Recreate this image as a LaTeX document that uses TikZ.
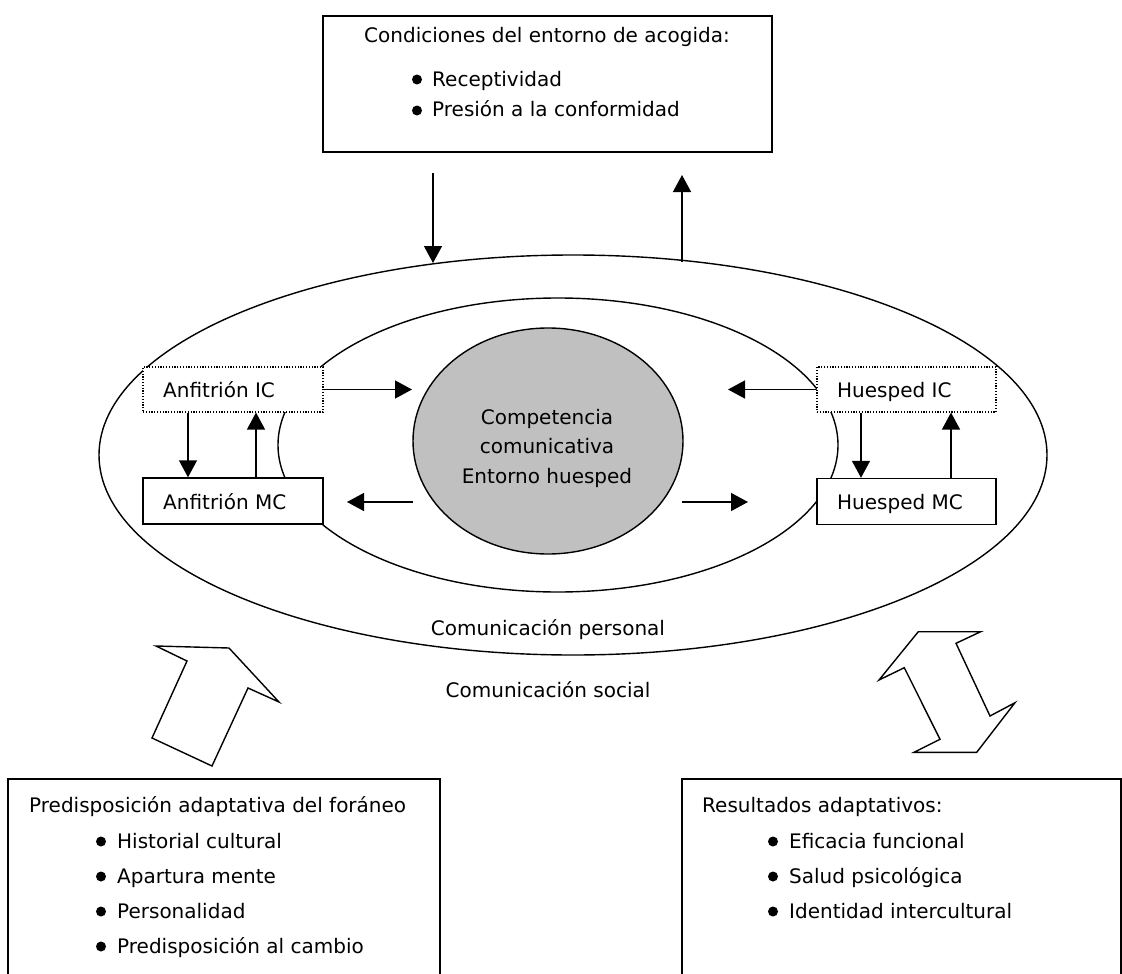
\documentclass[tikz,border=0pt]{standalone}
\usepackage{fontspec}
\setmainfont{DejaVu Sans}
\usetikzlibrary{arrows.meta,shapes.geometric}

\begin{document}
\begin{tikzpicture}[x=1pt,y=-1pt,
  txt/.style={font=\fontsize{20}{24}\selectfont, inner sep=0pt, anchor=base west},
  ctxt/.style={font=\fontsize{20}{24}\selectfont, inner sep=0pt, anchor=base},
  boxframe/.style={draw, rectangle, line width=1.4pt, fill=white, inner sep=0pt},
  dotframe/.style={boxframe, line width=1.1pt, dash pattern=on 1.2pt off 1.6pt},
  ringshape/.style={draw, ellipse, line width=1.4pt, inner sep=0pt},
  arr/.style={line width=1.4pt, -{Triangle[length=17pt,width=18pt]}},
  bigarrow/.style={draw, fill=white, line width=1.4pt, line join=miter},
  bulletdot/.style={fill, circle, inner sep=0pt, minimum size=10pt}
]
\useasboundingbox (0,0) rectangle (1122,974);
\clip (0,0) rectangle (1122,974);

% nested communication ovals and the central competence core
\node[ringshape, minimum width=948pt, minimum height=400pt] (outer) at (573,455) {};
\node[ringshape, minimum width=560pt, minimum height=294pt] (inner) at (558,445) {};
\node[ringshape, fill={rgb,255:red,192;green,192;blue,192}, minimum width=270pt, minimum height=226pt] (core) at (548,441) {};
\node[ctxt] (core1) at (547,424) {Competencia};
\node[ctxt] (core2) at (547,453.5) {comunicativa};
\node[ctxt] (core3) at (547,483) {Entorno huesped};

% host environment conditions
\node[boxframe, minimum width=449pt, minimum height=136pt] (env) at (547.5,84) {};
\node[txt] (envT) at (364,43) {Condiciones del entorno de acogida:};
\node[bulletdot] (envB1) at (417,79.5) {};
\node[txt] (env1) at (432,86) {Receptividad};
\node[bulletdot] (envB2) at (417,110.5) {};
\node[txt] (env2) at (432,117) {Presión a la conformidad};

\coordinate (downS) at (433,173);
\coordinate (downE) at (433,263);
\coordinate (upS) at (682,262);
\coordinate (upE) at (682,175);
\draw[arr] (downS) -- (downE);
\draw[arr] (upS) -- (upE);

% host and guest communication boxes
\node[dotframe, minimum width=180pt, minimum height=45pt] (anfIC) at (233,389.5) {};
\node[txt] at (163,397) {Anfitrión IC};
\node[boxframe, minimum width=180pt, minimum height=46pt] (anfMC) at (233,501) {};
\node[txt] at (163,509) {Anfitrión MC};
\node[dotframe, minimum width=179pt, minimum height=45pt] (hueIC) at (906.5,389.5) {};
\node[txt] at (837,397) {Huesped IC};
\node[boxframe, minimum width=179pt, minimum height=46pt] (hueMC) at (906.5,501.5) {};
\node[txt] at (837,509) {Huesped MC};

\draw[arr] (anfIC.south -| 188,0) -- (anfMC.north -| 188,0);
\draw[arr] (anfMC.north -| 256,0) -- (anfIC.south -| 256,0);
\draw[arr] (hueIC.south -| 861,0) -- (hueMC.north -| 861,0);
\draw[arr] (hueMC.north -| 951,0) -- (hueIC.south -| 951,0);

\coordinate (coreInL) at (412,389.5);
\coordinate (coreOutL) at (413,502);
\coordinate (anfIn) at (347,502);
\coordinate (coreInR) at (728,389.5);
\coordinate (coreOutR) at (682,502);
\coordinate (hueIn) at (748,502);
\draw[arr] (anfIC.east) -- (coreInL);
\draw[arr] (coreOutL) -- (anfIn);
\draw[arr] (hueIC.west) -- (coreInR);
\draw[arr] (coreOutR) -- (hueIn);

\node[ctxt] (personal) at (548,635) {Comunicación personal};
\node[ctxt] (social) at (548,697) {Comunicación social};

% block arrows
\draw[bigarrow] (229,648) -- (279,702) -- (248,688) -- (212,766) -- (152,738)
  -- (187,661) -- (156,646) -- cycle;
\draw[bigarrow] (918.3,631.7) -- (980.7,631.7) -- (956,643.3) -- (990,716)
  -- (1015,702.7) -- (976.7,752.3) -- (914,752.3) -- (940,739.3)
  -- (904.3,667.7) -- (879,680) -- cycle;

% predisposition of the newcomer
\draw[line width=1.4pt] (8,990) -- (8,779) -- (440,779) -- (440,990);
\node[txt] at (29,812) {Predisposición adaptativa del foráneo};
\node[bulletdot] at (101,841.5) {};
\node[txt] at (117,848) {Historial cultural};
\node[bulletdot] at (101,876.5) {};
\node[txt] at (117,883) {Apartura mente};
\node[bulletdot] at (101,911.5) {};
\node[txt] at (117,918) {Personalidad};
\node[bulletdot] at (101,946.5) {};
\node[txt] at (117,953) {Predisposición al cambio};

% adaptive outcomes
\draw[line width=1.4pt] (682,990) -- (682,779) -- (1121,779) -- (1121,990);
\node[txt] at (702,812) {Resultados adaptativos:};
\node[bulletdot] at (773,841.5) {};
\node[txt] at (789,848) {Eficacia funcional};
\node[bulletdot] at (773,876.5) {};
\node[txt] at (789,883) {Salud psicológica};
\node[bulletdot] at (773,911.5) {};
\node[txt] at (789,918) {Identidad intercultural};
\end{tikzpicture}
\end{document}
